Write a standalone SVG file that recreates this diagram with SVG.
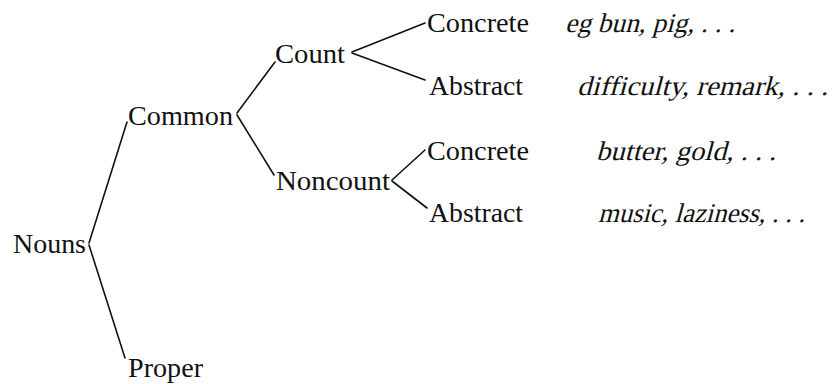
<svg xmlns="http://www.w3.org/2000/svg" width="833" height="384" viewBox="0 0 833 384">
<style>
.t{font-family:"Liberation Serif","Times New Roman",serif;font-size:27px;fill:#111;}
.i{font-family:"Liberation Serif","Times New Roman",serif;font-size:27px;fill:#111;}
.c line{stroke:#111;stroke-width:1.6;stroke-linecap:round;}
</style>
<rect width="833" height="384" fill="#fff"/>
<g class="c" id="connectors">
<line x1="89" y1="243" x2="127" y2="122"/>
<line x1="89" y1="245" x2="125" y2="358"/>
<line x1="237" y1="113" x2="275" y2="62"/>
<line x1="237" y1="115" x2="274" y2="175"/>
<line x1="352" y1="52" x2="425" y2="23"/>
<line x1="352" y1="53" x2="425" y2="80"/>
<line x1="392" y1="180" x2="425" y2="150"/>
<line x1="392" y1="181" x2="427" y2="208"/>
</g>
<g id="nouns"><text class="t" x="13" y="253" textLength="73" lengthAdjust="spacingAndGlyphs">Nouns</text></g>
<g id="proper"><text class="t" x="128" y="377" textLength="75" lengthAdjust="spacingAndGlyphs">Proper</text></g>
<g id="common"><text class="t" x="128" y="125" textLength="105" lengthAdjust="spacingAndGlyphs">Common</text></g>
<g id="count"><text class="t" x="275" y="63" textLength="70" lengthAdjust="spacingAndGlyphs">Count</text></g>
<g id="noncount"><text class="t" x="276" y="190" textLength="114" lengthAdjust="spacingAndGlyphs">Noncount</text></g>
<g id="count-concrete"><text class="t" x="427" y="32" textLength="102" lengthAdjust="spacingAndGlyphs">Concrete</text></g>
<g id="count-abstract"><text class="t" x="429" y="95" textLength="94" lengthAdjust="spacingAndGlyphs">Abstract</text></g>
<g id="noncount-concrete"><text class="t" x="427" y="160" textLength="102" lengthAdjust="spacingAndGlyphs">Concrete</text></g>
<g id="noncount-abstract"><text class="t" x="429" y="222" textLength="94" lengthAdjust="spacingAndGlyphs">Abstract</text></g>
<g id="examples">
<text class="i" transform="translate(565 32) skewX(-15)" textLength="170" lengthAdjust="spacingAndGlyphs">eg bun, pig, . . .</text>
<text class="i" transform="translate(577 95) skewX(-15)" textLength="251" lengthAdjust="spacingAndGlyphs">difficulty, remark, . . .</text>
<text class="i" transform="translate(596 160) skewX(-15)" textLength="180" lengthAdjust="spacingAndGlyphs">butter, gold, . . .</text>
<text class="i" transform="translate(598 222) skewX(-15)" textLength="207" lengthAdjust="spacingAndGlyphs">music, laziness, . . .</text>
</g>
</svg>
